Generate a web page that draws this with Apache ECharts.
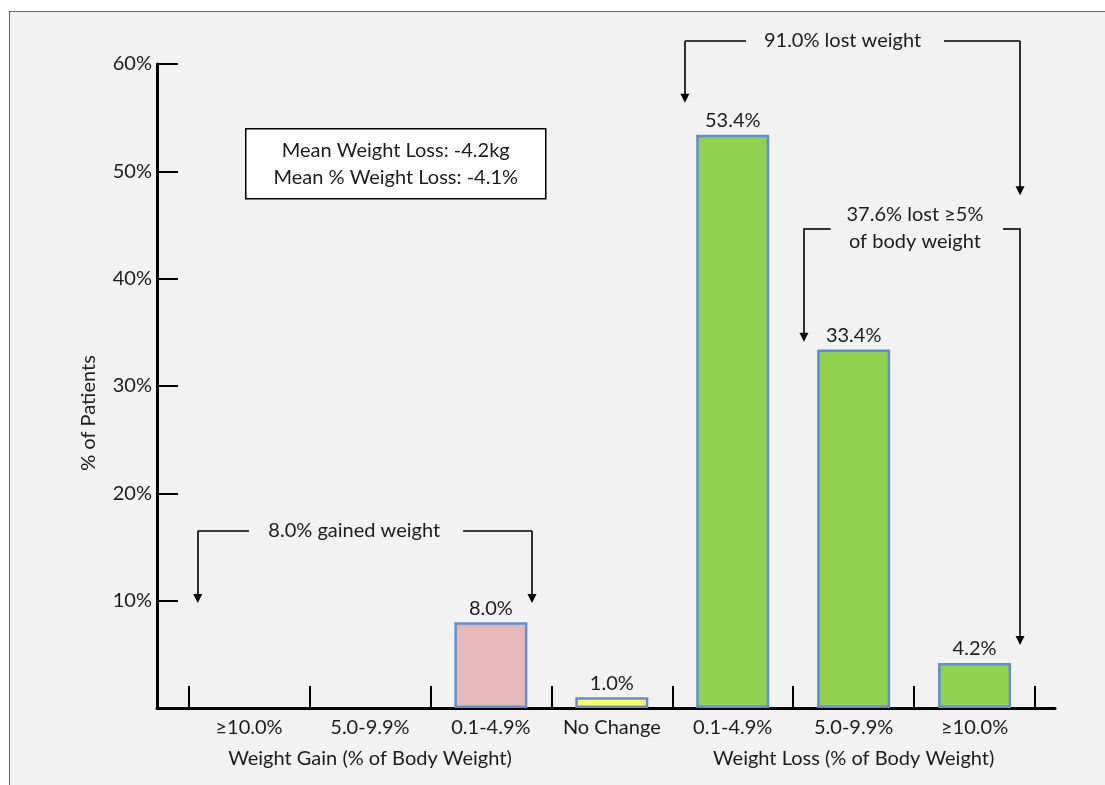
<!DOCTYPE html>
<html>
<head>
<meta charset="utf-8">
<script src="https://cdn.jsdelivr.net/npm/echarts@6/dist/echarts.min.js"></script>
<style>
  html, body { margin: 0; padding: 0; background: #ffffff; }
  #frame {
    position: absolute; left: 9px; top: 11px; right: 0; bottom: 0;
    border-top: 1px solid #4a6898; border-left: 1px solid #4a6898;
    background: #f2f2f2;
  }
  #chart { position: absolute; left: 0; top: 0; width: 1105px; height: 785px; }
</style>
</head>
<body>
<div id="frame"></div>
<div id="chart"></div>
<script>
// Weight change categories (left: gain, middle: no change, right: loss)
const categories = ['≥10.0%', '5.0-9.9%', '0.1-4.9%', 'No Change', '0.1-4.9%', '5.0-9.9%', '≥10.0%'];
// Group captions, each centred under the middle category of its group
const groupLabels = ['Weight Gain (% of Body Weight)', 'Weight Loss (% of Body Weight)'];
const groupCenters = [1, 5];
const patientPct = [0, 0, 8.0, 1.0, 53.4, 33.4, 4.2];
const barColors = ['#e6b9b8', '#e6b9b8', '#e6b9b8', '#ffff66', '#92d050', '#92d050', '#92d050'];
const yTickValues = [0, 10, 20, 30, 40, 50, 60];

// Bracket annotations, in axis units (x = category index, y = % of patients)
const bracketSegments = [
  [[-0.424, 16.5], [0.0, 16.5]],
  [[1.77, 16.5], [2.34, 16.5]],
  [[3.605, 62.15], [4.11, 62.15]],
  [[5.747, 62.15], [6.376, 62.15]],
  [[4.589, 44.69], [4.81, 44.69]],
  [[6.235, 44.69], [6.376, 44.69]]
];
const bracketArrows = [
  [[-0.424, 16.5], [-0.424, 10.2]],
  [[2.34, 16.5], [2.34, 10.2]],
  [[3.605, 62.15], [3.605, 56.82]],
  [[6.376, 62.15], [6.376, 48.2]],
  [[4.589, 44.69], [4.589, 34.55]],
  [[6.376, 44.69], [6.376, 6.29]]
];
const bracketTexts = [
  { name: '8.0% gained weight', value: [0.87, 16.55] },
  { name: '91.0% lost weight', value: [4.908, 62.2] },
  { name: '37.6% lost ≥5%\nof body weight', value: [5.507, 44.69] }
];
const summaryText = 'Mean Weight Loss: -4.2kg\nMean % Weight Loss: -4.1%';

const FONT = 'Lato, "Open Sans", sans-serif';
const FS = 20;
const TEXT = '#1c1c1c';
const X_MIN = -0.761, X_MAX = 6.665;

const barData = patientPct.map((v, i) => v === 0
  ? { value: [i, 0], itemStyle: { color: 'transparent', borderWidth: 0 }, label: { show: false } }
  : { value: [i, v], itemStyle: { color: barColors[i] } });

const chart = echarts.init(document.getElementById('chart'), null, { renderer: 'canvas' });
chart.setOption({
  animation: false,
  backgroundColor: 'transparent',
  textStyle: { fontFamily: FONT, color: TEXT },
  grid: { left: 157, right: 50, top: 64, bottom: 77, containLabel: false },
  xAxis: [
    {
      type: 'value',
      position: 'bottom',
      min: X_MIN, max: X_MAX,
      splitLine: { show: false },
      axisLine: { show: true, onZero: true, lineStyle: { color: '#000', width: 3 } },
      axisTick: {
        show: true, inside: true, length: 22,
        customValues: [-0.5, 0.5, 1.5, 2.5, 3.5, 4.5, 5.5, 6.5],
        lineStyle: { color: '#000', width: 2 }
      },
      axisLabel: {
        customValues: categories.map((c, i) => i),
        showMinLabel: true, showMaxLabel: true, hideOverlap: false,
        margin: 10,
        fontSize: FS, color: TEXT, fontFamily: FONT,
        formatter: v => categories[Math.round(v)]
      }
    },
    {
      type: 'value',
      position: 'bottom',
      min: X_MIN, max: X_MAX,
      splitLine: { show: false },
      axisLine: { show: false, onZero: false },
      axisTick: { show: false },
      axisLabel: {
        customValues: groupCenters,
        showMinLabel: true, showMaxLabel: true, hideOverlap: false,
        margin: 41,
        fontSize: FS, color: TEXT, fontFamily: FONT,
        formatter: v => groupLabels[groupCenters.indexOf(Math.round(v))]
      }
    }
  ],
  yAxis: {
    type: 'value',
    min: 0, max: 60, interval: 10,
    name: '% of Patients',
    nameLocation: 'middle',
    nameGap: 58,
    nameTextStyle: { fontSize: FS, color: TEXT, fontFamily: FONT, padding: [0, 54, 0, 0] },
    splitLine: { show: false },
    axisLine: { show: true, onZero: false, lineStyle: { color: '#000', width: 3 } },
    axisTick: { show: true, inside: true, length: 21, lineStyle: { color: '#000', width: 2 } },
    axisLabel: {
      margin: 5, fontSize: FS, color: TEXT, fontFamily: FONT,
      formatter: v => (yTickValues.indexOf(v) > 0 ? v + '%' : '')
    }
  },
  graphic: [{
    type: 'group', left: 245, top: 128,
    children: [
      { type: 'rect', shape: { x: 0, y: 0, width: 300, height: 70 },
        style: { fill: '#ffffff', stroke: '#000000', lineWidth: 1.5 } },
      { type: 'text', style: { text: summaryText, x: 150, y: 35, align: 'center', verticalAlign: 'middle',
        font: FS + 'px ' + FONT, lineHeight: 27, fill: TEXT } }
    ]
  }],
  series: [
    {
      type: 'bar',
      xAxisIndex: 0,
      data: barData,
      barWidth: 73,
      itemStyle: { borderColor: '#5b8fd6', borderWidth: 2.5 },
      label: {
        show: true, position: 'top', distance: 4,
        fontSize: FS, color: TEXT, fontFamily: FONT,
        formatter: p => p.value[1].toFixed(1) + '%'
      },
      silent: true
    },
    {
      type: 'lines',
      coordinateSystem: 'cartesian2d',
      xAxisIndex: 0,
      clip: false,
      silent: true,
      symbol: ['none', 'none'],
      lineStyle: { color: '#000', width: 1.6, opacity: 1, curveness: 0 },
      data: bracketSegments.map(c => ({ coords: c }))
    },
    {
      type: 'lines',
      coordinateSystem: 'cartesian2d',
      xAxisIndex: 0,
      clip: false,
      silent: true,
      symbol: ['none', 'triangle'],
      symbolSize: [11, 9],
      lineStyle: { color: '#000', width: 1.6, opacity: 1, curveness: 0 },
      data: bracketArrows.map(c => ({ coords: c }))
    },
    {
      type: 'scatter',
      xAxisIndex: 0,
      clip: false,
      silent: true,
      symbolSize: 0,
      itemStyle: { opacity: 1, color: TEXT },
      label: {
        show: true, position: 'inside', formatter: '{b}', opacity: 1,
        textBorderWidth: 0, textBorderColor: 'transparent',
        fontSize: FS, lineHeight: 27, color: TEXT, fontFamily: FONT, align: 'center'
      },
      data: bracketTexts
    }
  ]
});
</script>
</body>
</html>
